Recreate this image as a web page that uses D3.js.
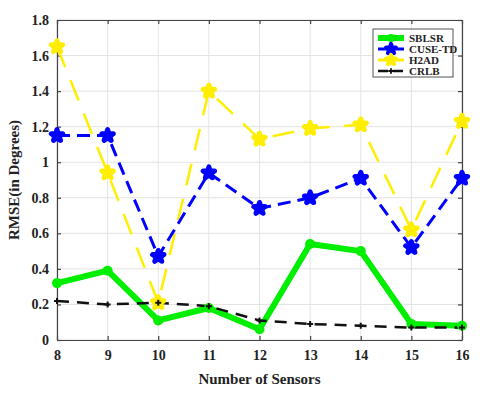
<!DOCTYPE html>
<html>
<head>
<meta charset="utf-8">
<script src="https://cdn.jsdelivr.net/npm/d3@7"></script>
<style>
  body { margin: 0; background: #fff; }
  svg text { font-family: "Liberation Serif", "Times New Roman", serif; font-weight: bold; }
</style>
</head>
<body>
<div id="chart"></div>
<script>
var sensors = [8, 9, 10, 11, 12, 13, 14, 15, 16];
var sblsr  = [0.32, 0.39, 0.11, 0.18, 0.06, 0.54, 0.50, 0.09, 0.08];
var cuse   = [1.15, 1.15, 0.47, 0.94, 0.74, 0.80, 0.91, 0.52, 0.91];
var h2ad   = [1.65, 0.94, 0.21, 1.40, 1.13, 1.19, 1.21, 0.62, 1.23];
var crlb   = [0.22, 0.20, 0.21, 0.19, 0.11, 0.09, 0.08, 0.07, 0.07];
var yTicks = [0, 0.2, 0.4, 0.6, 0.8, 1, 1.2, 1.4, 1.6, 1.8];
var names  = ["SBLSR", "CUSE-TD", "H2AD", "CRLB"];

var W = 480, H = 395;
var margin = { top: 20, right: 18, bottom: 55, left: 57 };

var svg = d3.select("#chart").append("svg")
  .attr("width", W).attr("height", H);

var x = d3.scaleLinear().domain([8, 16]).range([margin.left, W - margin.right]);
var y = d3.scaleLinear().domain([0, 1.8]).range([H - margin.bottom, margin.top]);

// grid
svg.append("g").selectAll("line.gx").data(sensors).join("line")
  .attr("x1", d => x(d)).attr("x2", d => x(d))
  .attr("y1", y(0)).attr("y2", y(1.8))
  .attr("stroke", "#e3e3e3").attr("stroke-width", 1);
svg.append("g").selectAll("line.gy").data(yTicks).join("line")
  .attr("x1", x(8)).attr("x2", x(16))
  .attr("y1", d => y(d)).attr("y2", d => y(d))
  .attr("stroke", "#e3e3e3").attr("stroke-width", 1);

// axes
var fmt = d => d3.format("~g")(d);
var xAx = svg.append("g").attr("transform", "translate(0," + y(0) + ")")
  .call(d3.axisBottom(x).tickValues(sensors).tickSize(-4).tickSizeOuter(0).tickPadding(10));
var yAx = svg.append("g").attr("transform", "translate(" + x(8) + ",0)")
  .call(d3.axisLeft(y).tickValues(yTicks).tickFormat(fmt).tickSize(-4).tickSizeOuter(0).tickPadding(8));
var xTop = svg.append("g").attr("transform", "translate(0," + y(1.8) + ")")
  .call(d3.axisTop(x).tickValues(sensors).tickSize(-4).tickSizeOuter(0).tickFormat(""));
var yRight = svg.append("g").attr("transform", "translate(" + x(16) + ",0)")
  .call(d3.axisRight(y).tickValues(yTicks).tickSize(-4).tickSizeOuter(0).tickFormat(""));
[xAx, yAx, xTop, yRight].forEach(function (g) {
  g.selectAll("path,line").attr("stroke", "#444").attr("stroke-width", 1.2);
  g.selectAll("text").attr("fill", "#222").style("font-size", "14px");
});

var line = d3.line().x((d, i) => x(sensors[i])).y(d => y(d));

// series
var plot = svg.append("g");
plot.append("path").datum(h2ad).attr("d", line).attr("fill", "none")
  .attr("stroke", "#ffee00").attr("stroke-width", 2.5).attr("stroke-dasharray", "22,14");
plot.append("path").datum(cuse).attr("d", line).attr("fill", "none")
  .attr("stroke", "#0000ff").attr("stroke-width", 3).attr("stroke-dasharray", "13,7");
plot.append("path").datum(sblsr).attr("d", line).attr("fill", "none")
  .attr("stroke", "#00ee00").attr("stroke-width", 6).attr("stroke-linejoin", "round");
plot.append("path").datum(crlb).attr("d", line).attr("fill", "none")
  .attr("stroke", "#111").attr("stroke-width", 2.5).attr("stroke-dasharray", "12,8");

var hexa = d3.symbol().type(d3.symbolStar).size(40);
plot.selectAll("path.h2").data(h2ad).join("path")
  .attr("transform", (d, i) => "translate(" + x(sensors[i]) + "," + y(d) + ")")
  .attr("d", hexa).attr("fill", "#ffee00").attr("stroke", "#ffee00").attr("stroke-width", 5).attr("stroke-linejoin", "round");
plot.selectAll("path.cu").data(cuse).join("path")
  .attr("transform", (d, i) => "translate(" + x(sensors[i]) + "," + y(d) + ")")
  .attr("d", hexa).attr("fill", "#0000ff").attr("stroke", "#0000ff").attr("stroke-width", 5).attr("stroke-linejoin", "round");
plot.selectAll("circle.sb").data(sblsr).join("circle")
  .attr("cx", (d, i) => x(sensors[i])).attr("cy", d => y(d)).attr("r", 5).attr("fill", "#00ee00");
plot.selectAll("path.cr").data(crlb).join("path")
  .attr("transform", (d, i) => "translate(" + x(sensors[i]) + "," + y(d) + ")")
  .attr("d", d3.symbol().type(d3.symbolCross).size(20)).attr("fill", "#111");

// axis titles
svg.append("text").attr("x", (x(8) + x(16)) / 2).attr("y", 384)
  .attr("text-anchor", "middle").style("font-size", "15px").attr("fill", "#222")
  .text("Number of Sensors");
svg.append("text").attr("transform", "translate(19," + (y(0.9)) + ") rotate(-90)")
  .attr("text-anchor", "middle").style("font-size", "15px").attr("fill", "#222")
  .text("RMSE(in Degrees)");

// legend
var lg = svg.append("g").attr("transform", "translate(373,29)");
lg.append("rect").attr("width", 80).attr("height", 48)
  .attr("fill", "#fff").attr("stroke", "#555").attr("stroke-width", 1);
var lStyles = [
  { c: "#00ee00", w: 6, dash: null, m: "circle" },
  { c: "#0000ff", w: 3, dash: null, m: "star" },
  { c: "#ffee00", w: 3, dash: null, m: "star" },
  { c: "#111", w: 2.5, dash: "10,5", m: "cross" }
];
names.forEach(function (n, i) {
  var yy = 9 + i * 11;
  var s = lStyles[i];
  lg.append("line").attr("x1", 5).attr("x2", 31).attr("y1", yy).attr("y2", yy)
    .attr("stroke", s.c).attr("stroke-width", s.w).attr("stroke-dasharray", s.dash);
  if (s.m === "circle") {
    lg.append("circle").attr("cx", 18).attr("cy", yy).attr("r", 4).attr("fill", s.c);
  } else if (s.m === "star") {
    lg.append("path").attr("transform", "translate(18," + yy + ")")
      .attr("d", d3.symbol().type(d3.symbolStar).size(30)).attr("fill", s.c)
      .attr("stroke", s.c).attr("stroke-width", 4).attr("stroke-linejoin", "round");
  } else {
    lg.append("path").attr("transform", "translate(18," + yy + ")")
      .attr("d", d3.symbol().type(d3.symbolCross).size(16)).attr("fill", s.c);
  }
  lg.append("text").attr("x", 36).attr("y", yy + 4).style("font-size", "11px")
    .attr("fill", "#222").text(n);
});
</script>
</body>
</html>
